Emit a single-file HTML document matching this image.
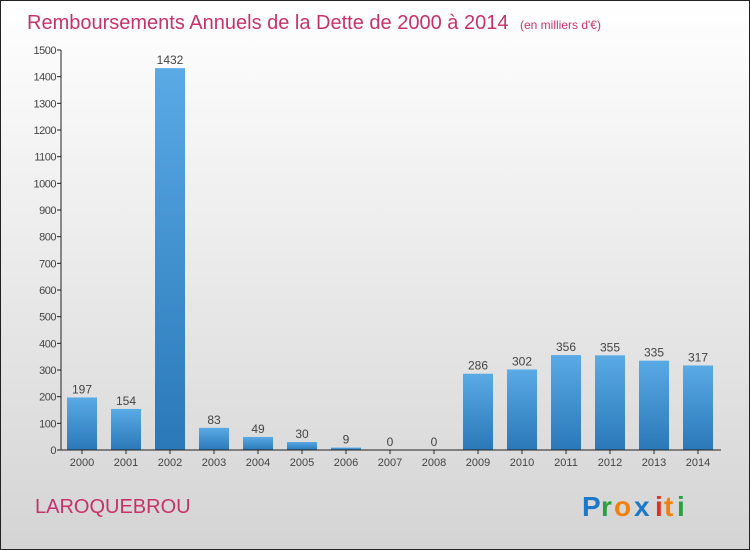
<!DOCTYPE html>
<html><head><meta charset="utf-8"><style>
body{margin:0}
svg{display:block;font-family:"Liberation Sans",sans-serif}
</style></head><body>
<svg id="c" width="750" height="550" xmlns="http://www.w3.org/2000/svg">
<defs>
<linearGradient id="bg" x1="0" y1="0" x2="0" y2="1"><stop offset="0" stop-color="#ffffff"/><stop offset="1" stop-color="#d4d4d4"/></linearGradient>
<linearGradient id="bar" x1="0" y1="0" x2="0" y2="1"><stop offset="0" stop-color="#5aaae6"/><stop offset="1" stop-color="#2a78b8"/></linearGradient>
</defs>
<rect x="0.5" y="0.5" width="749" height="549" fill="url(#bg)" stroke="#222"/>
<text x="27" y="29" font-size="20" fill="#c8326a">Remboursements Annuels de la Dette de 2000 à 2014 <tspan font-size="12" dx="6">(en milliers d'€)</tspan></text>
<g id="yax"></g><g id="bars"></g><g id="xax"></g>
<text x="35" y="513" font-size="20" fill="#c8326a">LAROQUEBROU</text>
<g font-size="28" font-weight="bold">
<text x="582" y="516" fill="#1e78c8">P</text><text x="601" y="516" fill="#2aa040">r</text><text x="614" y="516" fill="#f08010">o</text><text x="634" y="516" fill="#1e78c8">x</text><text x="655" y="516" fill="#e03020">i</text><text x="664" y="516" fill="#f08010">t</text><text x="677" y="516" fill="#2aa040">i</text>
</g>
</svg>
<script>
const categories=["2000","2001","2002","2003","2004","2005","2006","2007","2008","2009","2010","2011","2012","2013","2014"];
const values=[197,154,1432,83,49,30,9,0,0,286,302,356,355,335,317];
const yTicks=[0,100,200,300,400,500,600,700,800,900,1000,1100,1200,1300,1400,1500];
const NS="http://www.w3.org/2000/svg";
const y0=450,yTop=50,yMax=1500;
const y=v=>y0-(v/yMax)*(y0-yTop);
const x=i=>82+i*44;
function mk(t,a,p){const e=document.createElementNS(NS,t);for(const k in a)e.setAttribute(k,a[k]);p.appendChild(e);return e;}
const ya=document.getElementById('yax'),ba=document.getElementById('bars'),xa=document.getElementById('xax');
const ax=mk('line',{x1:61,y1:y(yMax),x2:61,y2:y0,stroke:'#222'},ya);


yTicks.forEach(v=>{
 const t=mk('line',{x1:57,x2:61,y1:y(v),y2:y(v),stroke:'#222'},ya);
 
 
 const l=mk('text',{x:56,y:y(v)+4,'font-size':11,'text-anchor':'end',fill:'#444','letter-spacing':'-0.5'},ya);
 l.textContent=v;
 
 
});
const xl=mk('line',{x1:61,y1:y0,x2:721,y2:y0,stroke:'#222'},xa);


categories.forEach((c,i)=>{
 const v=values[i];
 const r=mk('rect',{x:x(i)-15,y:y(v),width:30,height:y0-y(v),fill:'url(#bar)'},ba);
 
 
 const vl=mk('text',{x:x(i),y:y(v)-4,'font-size':12,'text-anchor':'middle',fill:'#444'},ba);
 vl.textContent=v;
 
 
 const t=mk('line',{x1:x(i),x2:x(i),y1:y0,y2:y0+4,stroke:'#222'},xa);
 
 
 const l=mk('text',{x:x(i),y:466,'font-size':11,'text-anchor':'middle',fill:'#444'},xa);
 l.textContent=c;
 
 
});
</script>
</body></html>
